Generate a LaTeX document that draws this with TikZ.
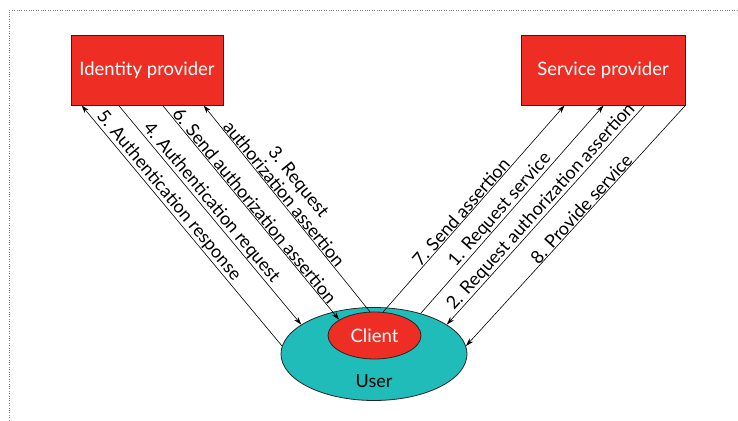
\documentclass[tikz,border=0pt]{standalone}
\usepackage{fontspec}
\setmainfont{Lato}
\usetikzlibrary{arrows.meta,shapes.geometric}
\definecolor{partyred}{RGB}{238,46,36}
\definecolor{userteal}{RGB}{31,188,185}

\begin{document}
\begin{tikzpicture}[x=1pt, y=-1pt, >={Stealth[length=8pt,width=5pt]},
    party/.style={draw=black!85, fill=partyred, text=white, line width=0.8pt,
      minimum height=70pt, font=\fontsize{18.5}{22}\selectfont},
    oval/.style={draw=black!85, ellipse, line width=0.8pt, inner sep=0pt},
    msg/.style={line width=0.6pt},
    lbl/.style={sloped, above, inner sep=0.5pt, font=\fontsize{18}{19}\selectfont}]
    \useasboundingbox (0,0) rectangle (738,420);
    % dotted frame
    \draw[dotted, gray] (9,420) -- (9,10) -- (738,10);

    % parties
    \node[party, minimum width=152pt] (idp) at (147,70) {Identity provider};
    \node[party, minimum width=164pt] (sp) at (603,70) {Service provider};
    \node[oval, fill=userteal, minimum width=186pt, minimum height=93pt] (user) at (374,354) {};
    \node[font=\fontsize{18}{20}\selectfont] (usertext) at (374,381) {User};
    \node[oval, fill=partyred, text=white, minimum width=93pt, minimum height=47pt,
      font=\fontsize{18.5}{22}\selectfont] (client) at (374.5,335.5) {Client};

    % identity provider messages
    \draw[msg, <-] ([xshift=11pt]idp.south west) -- node[lbl, pos=0.4] {5. Authentication response} (user.175);
    \draw[msg, ->] ([xshift=48pt]idp.south west) -- node[lbl, pos=0.47] {4. Authentication request} (user.158);
    \draw[msg, ->] ([xshift=92pt]idp.south west) -- node[lbl, pos=0.49] {6. Send authorization assertion} (client.156);
    \draw[msg, <-] ([xshift=133pt]idp.south west) -- node[lbl, pos=0.45, align=center] {3. Request\\authorization assertion} (client.101);

    % service provider messages
    \draw[msg, ->] (client.70) -- node[lbl, pos=0.46] {7. Send assertion} ([xshift=44pt]sp.south west);
    \draw[msg, ->] (user.41) -- node[lbl, pos=0.47] {1. Request service} ([xshift=83pt]sp.south west);
    \draw[msg, <-] (user.22) -- node[lbl, pos=0.51] {2. Request authorization assertion} ([xshift=124pt]sp.south west);
    \draw[msg, <-] (user.5) -- node[lbl, pos=0.55] {8. Provide service} (sp.south east);
\end{tikzpicture}
\end{document}
